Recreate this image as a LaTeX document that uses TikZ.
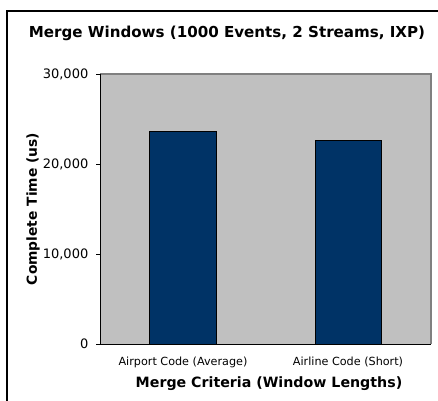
\documentclass[tikz,border=0pt]{standalone}
\usepackage{fontspec}
\setmainfont{DejaVu Sans}
\definecolor{plotgray}{HTML}{C0C0C0}
\definecolor{plotedge}{HTML}{808080}
\definecolor{barblue}{HTML}{003366}
\tikzset{
  ticklabel/.style={anchor=east, inner sep=0pt, font=\fontsize{13}{15}\selectfont},
  catlabel/.style={anchor=center, inner sep=0pt, font=\fontsize{11.2}{13}\selectfont},
  axistitle/.style={anchor=center, inner sep=0pt, font=\bfseries\fontsize{14.2}{16}\selectfont},
  barbox/.style={fill=barblue, draw=black, line width=1pt},
}
\begin{document}
\begin{tikzpicture}[x=1pt,y=-1pt]
\useasboundingbox (0,0) rectangle (438,400);
\clip (0,0) rectangle (438,400);
\fill[white] (0,0) rectangle (438,400);
% outer frame
\draw[line width=2pt] (7,430) -- (7,11) -- (460,11);
% plot area
\fill[plotgray] (100,74) rectangle (431,344);
\draw[plotedge, line width=1.2pt] (100,74) -- (431,74) -- (431,344);
% bars
\draw[barbox] (149.5,131.5) rectangle (216,344);
\draw[barbox] (315,140) rectangle (381,344);
% axes
\draw[black, line width=1pt] (100,74) -- (100,344) -- (431,344);
\foreach \yy in {74,164,254,344} \draw[black, line width=1pt] (96,\yy) -- (100,\yy);
% tick labels
\node[ticklabel] (t30) at (88.5,74) {30,000};
\node[ticklabel] (t20) at (88.5,164) {20,000};
\node[ticklabel] (t10) at (88.5,254) {10,000};
\node[ticklabel] (t0) at (88.5,344) {0};
% category labels
\node[catlabel] (c1) at (183,362) {Airport Code (Average)};
\node[catlabel] (c2) at (348,362) {Airline Code (Short)};
% titles
\node[axistitle, font=\bfseries\fontsize{15.1}{17}\selectfont] (title) at (227,33) {Merge Windows (1000 Events, 2 Streams, IXP)};
\node[axistitle] (xtitle) at (269,384) {Merge Criteria (Window Lengths)};
\node[axistitle, font=\bfseries\fontsize{13.8}{15}\selectfont, rotate=90] (ytitle) at (33,209) {Complete Time (us)};
\end{tikzpicture}
\end{document}
